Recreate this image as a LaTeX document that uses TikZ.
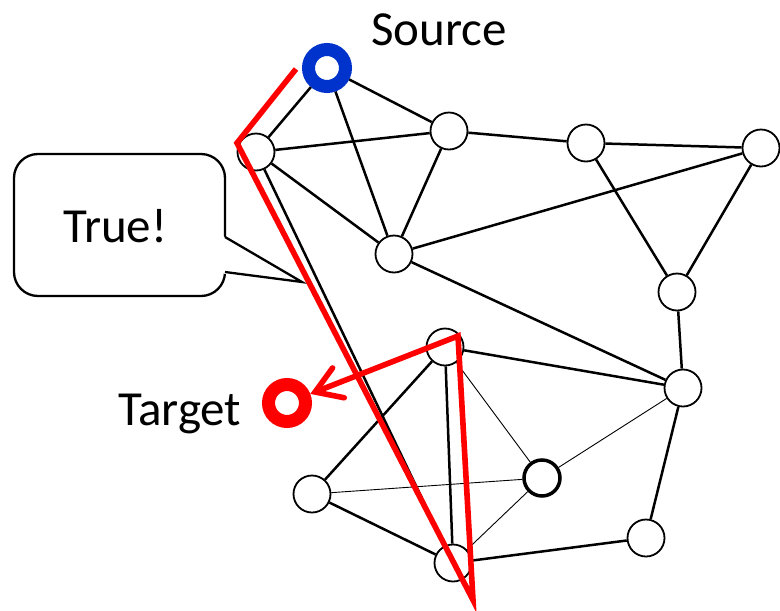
\documentclass[tikz,border=0pt]{standalone}
\usepackage{fontspec}
\setmainfont{Carlito}
\usetikzlibrary{arrows.meta}
\definecolor{srcblue}{RGB}{0,51,204}
\definecolor{pathred}{RGB}{255,0,0}
\begin{document}
\begin{tikzpicture}[x=1pt,y=-1pt,
  vertex/.style={circle,draw=black,fill=white,line width=1.8pt,minimum size=37pt,inner sep=0pt},
  boldvertex/.style={vertex,line width=3.5pt,minimum size=36pt},
  ringnode/.style={circle,fill=white,line width=13pt,minimum size=37pt,inner sep=0pt},
  edge/.style={draw=black,line width=2.5pt},
  thinedge/.style={draw=black,line width=0.9pt},
  redpath/.style={draw=pathred,line width=5.6pt,line join=miter},
  label/.style={font=\fontsize{49}{55}\selectfont,inner sep=0pt,anchor=base west}]
\clip (0,0) rectangle (780,611);

% vertices
\node[vertex] (A) at (256,152) {};
\node[vertex] (B) at (449,131) {};
\node[vertex] (C) at (394,254) {};
\node[vertex] (D) at (586,143) {};
\node[vertex] (E) at (761,148) {};
\node[vertex] (F) at (677,292) {};
\node[vertex] (G) at (683,388) {};
\node[vertex] (H) at (445,347) {};
\node[boldvertex] (I) at (542,478) {};
\node[vertex] (J) at (312,494) {};
\node[vertex] (K) at (453,563) {};
\node[vertex] (L) at (646,538) {};
\node[ringnode,draw=srcblue] (S) at (327,68) {};
\node[ringnode,draw=pathred] (T) at (287,403) {};

% edges
\path[edge] (S) -- (A);
\path[edge] (S) -- (B);
\path[edge] (S) -- (C);
\path[edge] (A) -- (B);
\path[edge] (A) -- (C);
\path[edge] (A) -- (K);
\path[edge] (B) -- (C);
\path[edge] (B) -- (D);
\path[edge] (D) -- (E);
\path[edge] (C) -- (E);
\path[edge] (D) -- (F);
\path[edge] (E) -- (F);
\path[edge] (C) -- (G);
\path[edge] (F) -- (G);
\path[edge] (H) -- (G);
\path[edge] (H) -- (J);
\path[edge] (H) -- (K);
\path[edge] (J) -- (K);
\path[edge] (K) -- (L);
\path[edge] (L) -- (G);
\path[thinedge] (H) -- (I);
\path[thinedge] (J) -- (I);
\path[thinedge] (K) -- (I);
\path[thinedge] (G) -- (I);

% labels
\node[label] (srclabel) at (371,45) {Source};
\node[label] (tgtlabel) at (118,425) {Target};

% speech bubble
\node[draw=black,line width=2.3pt,fill=white,rounded corners=24pt,
      minimum width=211pt,minimum height=142pt,inner sep=0pt] (bubble) at (119.5,225) {};
\coordinate (tipbase1) at (225,237);
\coordinate (tipbase2) at (225,272);
\coordinate (tip) at (302,282);
\fill[white] (222,235.5) -- (tip) -- (222,273.5) -- cycle;
\draw[line width=2.3pt,line join=miter] (tipbase1) -- (tip) -- (tipbase2);
\node[label] (truelabel) at (63,242) {True!};

% highlighted route
\coordinate (r0) at (296,69);
\coordinate (r1) at (237,143);
\coordinate (r2) at (473,600);
\coordinate (r3) at (458,336);
\draw[redpath,-{Straight Barb[length=25pt,width=32pt,line cap=round]}]
  (r0) -- (r1) -- (r2) -- (r3) -- (T);
\end{tikzpicture}
\end{document}
